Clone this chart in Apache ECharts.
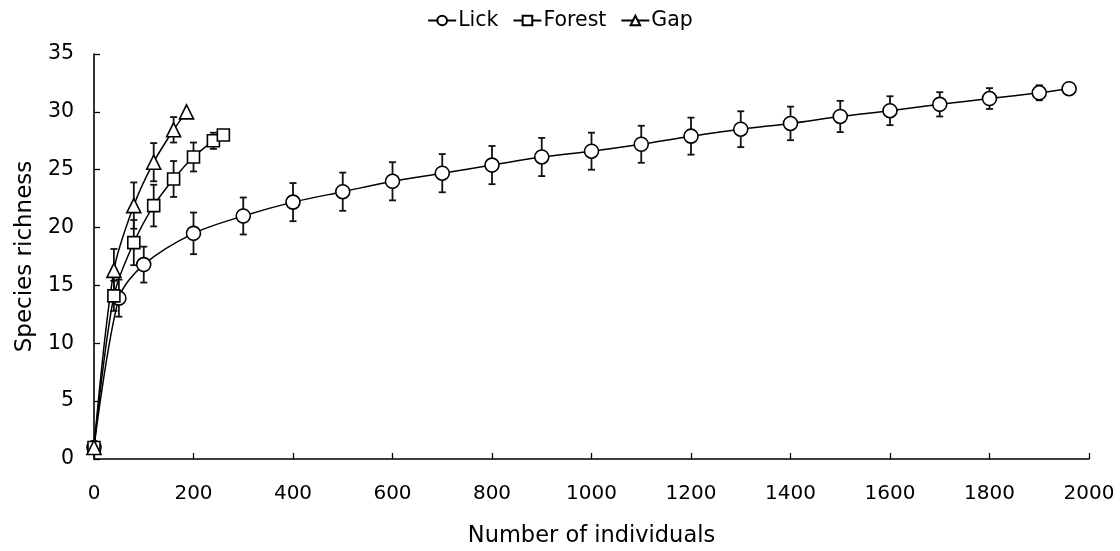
<!DOCTYPE html>
<html>
<head>
<meta charset="utf-8">
<script src="https://cdn.jsdelivr.net/npm/echarts@6/dist/echarts.min.js"></script>
<style>
html,body{margin:0;padding:0;background:#fff;}
#chart{width:1120px;height:551px;}
</style>
</head>
<body>
<div id="chart"></div>
<script>
// ---- data ----
const lickX   = [0, 50, 100, 200, 300, 400, 500, 600, 700, 800, 900, 1000, 1100, 1200, 1300, 1400, 1500, 1600, 1700, 1800, 1900, 1960];
const lickY   = [1, 13.9, 16.8, 19.5, 21.0, 22.2, 23.1, 24.0, 24.7, 25.4, 26.1, 26.6, 27.2, 27.9, 28.5, 29.0, 29.6, 30.1, 30.65, 31.15, 31.65, 32.0];
const lickErr = [0, 1.6, 1.55, 1.8, 1.6, 1.65, 1.65, 1.65, 1.65, 1.65, 1.65, 1.6, 1.6, 1.6, 1.55, 1.45, 1.35, 1.25, 1.05, 0.9, 0.65, 0];

const forestX   = [0, 40, 80, 120, 160, 200, 240, 260];
const forestY   = [1, 14.1, 18.7, 21.9, 24.2, 26.1, 27.5, 28.0];
const forestErr = [0, 1.3, 1.95, 1.8, 1.55, 1.25, 0.7, 0];

const gapX   = [0, 40, 80, 120, 160, 186];
const gapY   = [1, 16.3, 21.9, 25.65, 28.45, 30.0];
const gapErr = [0, 1.85, 2.0, 1.65, 1.1, 0];

const seriesNames = ['Lick', 'Forest', 'Gap'];
const xTicks = [0, 200, 400, 600, 800, 1000, 1200, 1400, 1600, 1800, 2000];
const yTicks = [0, 5, 10, 15, 20, 25, 30, 35];

const FONT = '"DejaVu Sans", "Liberation Sans", Arial, sans-serif';

function pts(xs, ys) { return xs.map((x, i) => [x, ys[i]]); }
function errPts(xs, ys, es) { return xs.map((x, i) => [x, ys[i], es[i]]); }

function errRender(params, api) {
  const x = api.value(0), y = api.value(1), e = api.value(2);
  if (!e) return null;
  const lo = api.coord([x, y - e]);
  const hi = api.coord([x, y + e]);
  const cap = 3.5;
  const st = { stroke: '#111', lineWidth: 1.8 };
  return {
    type: 'group',
    children: [
      { type: 'line', shape: { x1: lo[0], y1: lo[1], x2: hi[0], y2: hi[1] }, style: st },
      { type: 'line', shape: { x1: lo[0] - cap, y1: lo[1], x2: lo[0] + cap, y2: lo[1] }, style: st },
      { type: 'line', shape: { x1: hi[0] - cap, y1: hi[1], x2: hi[0] + cap, y2: hi[1] }, style: st }
    ]
  };
}

function errSeries(name, data) {
  return {
    name: name, type: 'custom', renderItem: errRender, data: data,
    encode: { x: 0, y: 1 }, z: 1, silent: true
  };
}

function lineSeries(name, data, symbol, size) {
  return {
    name: name, type: 'line', data: data,
    smooth: 0.3,
    symbol: symbol, symbolSize: size, showAllSymbol: true,
    lineStyle: { color: '#000', width: 1.5 },
    itemStyle: { color: '#fff', borderColor: '#000', borderWidth: 1.6 },
    z: 3
  };
}

const chart = echarts.init(document.getElementById('chart'), null, { renderer: 'canvas' });
chart.setOption({
  animation: false,
  backgroundColor: '#fff',
  textStyle: { fontFamily: FONT },
  legend: {
    data: seriesNames,
    top: 5,
    left: 'center',
    itemWidth: 28,
    itemHeight: 12,
    itemGap: 14,
    textStyle: { fontFamily: FONT, fontSize: 20.5, color: '#000', padding: [0, 0, 0, -3] }
  },
  grid: { left: 94, right: 31, top: 54, bottom: 92, containLabel: false, outerBoundsMode: 'none' },
  xAxis: {
    type: 'value', min: 0, max: 2000, interval: 200,
    name: 'Number of individuals', nameLocation: 'middle', nameGap: 66,
    nameTextStyle: { fontFamily: FONT, fontSize: 22.5, color: '#000' },
    axisLine: { lineStyle: { color: '#000', width: 1.6 } },
    axisTick: { inside: true, length: 6, lineStyle: { color: '#000', width: 1.3 } },
    axisLabel: { fontFamily: FONT, fontSize: 20, color: '#000', margin: 25,
      formatter: v => xTicks.includes(v) ? String(v) : '' },
    splitLine: { show: false }
  },
  yAxis: {
    type: 'value', min: 0, max: 35, interval: 5,
    name: 'Species richness', nameLocation: 'middle', nameGap: 52,
    nameTextStyle: { fontFamily: FONT, fontSize: 23, color: '#000' },
    axisLine: { show: true, lineStyle: { color: '#000', width: 1.6 } },
    axisTick: { show: true, inside: true, length: 6, lineStyle: { color: '#000', width: 1.3 } },
    axisLabel: { fontFamily: FONT, fontSize: 20.5, color: '#000', margin: 20,
      formatter: v => yTicks.includes(v) ? String(v) : '' },
    splitLine: { show: false }
  },
  series: [
    errSeries('Lick err', errPts(lickX, lickY, lickErr)),
    errSeries('Forest err', errPts(forestX, forestY, forestErr)),
    errSeries('Gap err', errPts(gapX, gapY, gapErr)),
    lineSeries('Lick', pts(lickX, lickY), 'circle', 14),
    lineSeries('Forest', pts(forestX, forestY), 'rect', 12),
    lineSeries('Gap', pts(gapX, gapY), 'triangle', 14)
  ]
});
</script>
</body>
</html>
